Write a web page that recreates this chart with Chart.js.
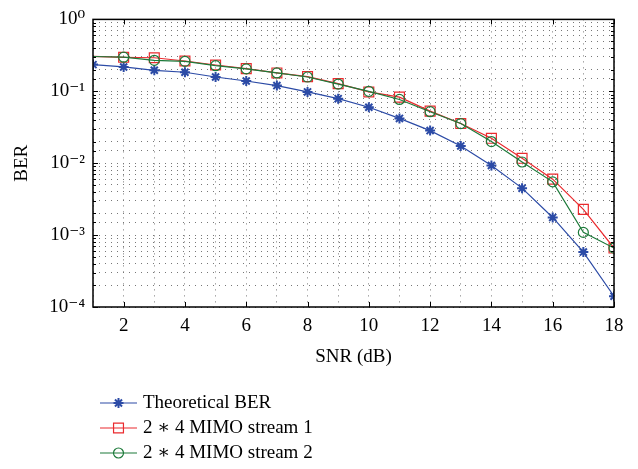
<!DOCTYPE html>
<html>
<head>
<meta charset="utf-8">
<script src="https://cdn.jsdelivr.net/npm/chart.js@4/dist/chart.umd.min.js"></script>
<style>
  body { margin: 0; background: #fff; }
  canvas { display: block; }
</style>
</head>
<body>
<canvas id="chart" width="638" height="469"></canvas>
<script>
var snr = [1, 2, 3, 4, 5, 6, 7, 8, 9, 10, 11, 12, 13, 14, 15, 16, 17, 18];
var theoretical = [0.235, 0.218, 0.196, 0.184, 0.158, 0.139, 0.12, 0.098, 0.079, 0.06, 0.042, 0.0284, 0.0174, 0.0093, 0.0045, 0.00176, 0.00058, 0.000141];
var stream1 = [0.306, 0.297, 0.293, 0.264, 0.232, 0.207, 0.18, 0.16, 0.128, 0.098, 0.083, 0.053, 0.0356, 0.0222, 0.0117, 0.006, 0.00228, 0.00066];
var stream2 = [0.305, 0.298, 0.27, 0.261, 0.227, 0.205, 0.18, 0.158, 0.126, 0.1, 0.077, 0.052, 0.0356, 0.02, 0.0104, 0.0055, 0.00109, 0.00066];
var seriesNames = ['Theoretical BER', '2 \u2217 4 MIMO stream 1', '2 \u2217 4 MIMO stream 2'];
var xTicks = [2, 4, 6, 8, 10, 12, 14, 16, 18];
var yLabels = {'1': '10\u2070', '0.1': '10\u207B\u00B9', '0.01': '10\u207B\u00B2', '0.001': '10\u207B\u00B3', '0.0001': '10\u207B\u2074'};

var serif = "'Liberation Serif', 'DejaVu Serif', serif";

function pts(arr) {
    return arr.map(function (v, i) { return {x: snr[i], y: v}; });
}

// the simulated curves have no marker at the first point
function skipFirst(r) {
    return function (c) { return c.dataIndex === 0 ? 0 : r; };
}

// box around the plot with inward ticks, like matlab
var frame = {
    id: 'frame',
    afterDraw: function (chart) {
        var c = chart.ctx, a = chart.chartArea;
        var xs = chart.scales.x, ys = chart.scales.y;
        c.save();
        c.strokeStyle = '#000';
        c.lineWidth = 1.5;
        c.strokeRect(a.left, a.top, a.right - a.left, a.bottom - a.top);
        c.lineWidth = 1;
        c.beginPath();
        xTicks.forEach(function (t) {
            var px = Math.round(xs.getPixelForValue(t)) + 0.5;
            c.moveTo(px, a.bottom); c.lineTo(px, a.bottom - 5);
            c.moveTo(px, a.top); c.lineTo(px, a.top + 5);
        });
        ys.ticks.forEach(function (t) {
            var py = Math.round(ys.getPixelForValue(t.value)) + 0.5;
            var len = yLabels[String(t.value)] ? 5 : 3;
            c.moveTo(a.left, py); c.lineTo(a.left + len, py);
            c.moveTo(a.right, py); c.lineTo(a.right - len, py);
        });
        c.stroke();
        c.restore();
    }
};

// legend stacked in one column under the axis title
var sideLegend = {
    id: 'sideLegend',
    afterDraw: function (chart) {
        var c = chart.ctx;
        c.save();
        chart.data.datasets.forEach(function (ds, i) {
            var y = 403 + i * 25;
            c.strokeStyle = ds.borderColor;
            c.fillStyle = ds.pointBackgroundColor;
            c.lineWidth = 1.2;
            c.beginPath();
            c.moveTo(100, y); c.lineTo(137, y);
            c.stroke();
            c.lineWidth = ds.pointBorderWidth;
            Chart.helpers.drawPoint(c, {
                pointStyle: ds.pointStyle,
                radius: ds.legendRadius,
                borderWidth: ds.pointBorderWidth,
                rotation: 0
            }, 118.5, y);
            c.fillStyle = '#000';
            c.font = '19px ' + serif;
            c.textBaseline = 'middle';
            c.textAlign = 'left';
            c.fillText(ds.label, 143, y);
        });
        c.restore();
    }
};

var ctx = document.getElementById('chart').getContext('2d');
var chart = new Chart(ctx, {
    type: 'line',
    data: {
        datasets: [{
            label: seriesNames[0],
            data: pts(theoretical),
            borderColor: '#2C4BA6',
            backgroundColor: '#2C4BA6',
            pointBackgroundColor: '#2C4BA6',
            pointStyle: 'star',
            pointRadius: 5,
            legendRadius: 5,
            pointBorderWidth: 2,
            borderWidth: 1.2,
            order: 2
        }, {
            label: seriesNames[1],
            data: pts(stream1),
            borderColor: '#EA2A2E',
            backgroundColor: 'rgba(0,0,0,0)',
            pointBackgroundColor: 'rgba(0,0,0,0)',
            pointStyle: 'rect',
            pointRadius: skipFirst(7),
            legendRadius: 7,
            pointBorderWidth: 1.2,
            borderWidth: 1.2,
            order: 1
        }, {
            label: seriesNames[2],
            data: pts(stream2),
            borderColor: '#1D7A3A',
            backgroundColor: 'rgba(0,0,0,0)',
            pointBackgroundColor: 'rgba(0,0,0,0)',
            pointStyle: 'circle',
            pointRadius: skipFirst(5),
            legendRadius: 5,
            pointBorderWidth: 1.2,
            borderWidth: 1.2,
            order: 0
        }]
    },
    options: {
        responsive: false,
        animation: false,
        layout: { padding: { top: 19, right: 24, bottom: 100, left: 0 } },
        plugins: {
            legend: { display: false },
            tooltip: { enabled: false }
        },
        scales: {
            x: {
                type: 'linear',
                min: 1,
                max: 18,
                afterFit: function (s) { s.height = 62; },
                ticks: {
                    stepSize: 1,
                    autoSkip: false,
                    maxRotation: 0,
                    padding: 8,
                    color: '#000',
                    font: { family: serif, size: 19 },
                    callback: function (v) { return v % 2 === 0 ? String(v) : ''; }
                },
                grid: { color: '#777', lineWidth: 1, drawTicks: false },
                border: { display: false, dash: [1, 5] },
                title: {
                    display: true,
                    text: 'SNR (dB)',
                    color: '#000',
                    font: { family: serif, size: 19 },
                    padding: { top: 0, bottom: 1 }
                }
            },
            y: {
                type: 'logarithmic',
                min: 0.0001,
                max: 1,
                afterFit: function (s) { s.width = 93; },
                ticks: {
                    autoSkip: false,
                    padding: 8,
                    color: '#000',
                    font: { family: serif, size: 19 },
                    callback: function (v) { return yLabels[String(v)] || ''; }
                },
                grid: { color: '#777', lineWidth: 1, drawTicks: false },
                border: { display: false, dash: [1, 5] },
                title: {
                    display: true,
                    text: 'BER',
                    color: '#000',
                    font: { family: serif, size: 19 },
                    padding: { top: 11, bottom: 0 }
                }
            }
        }
    },
    plugins: [frame, sideLegend]
});
</script>
</body>
</html>
